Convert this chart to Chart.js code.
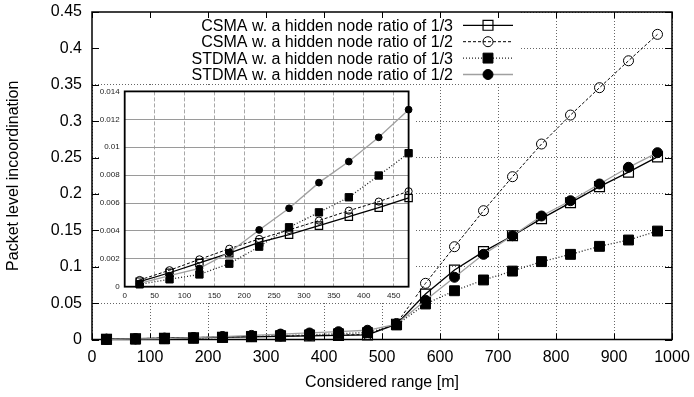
<!DOCTYPE html>
<html><head><meta charset="utf-8">
<script src="https://cdn.jsdelivr.net/npm/chart.js@4/dist/chart.umd.min.js"></script>
<style>
html,body{margin:0;padding:0;background:#fff;}
#wrap{position:relative;width:694px;height:397px;overflow:hidden;}
#main{position:absolute;left:0;top:0;}
#inset{position:absolute;left:99px;top:85px;background:#fff;}
</style></head><body>
<div id="wrap">
<canvas id="main" width="694" height="397"></canvas>
<canvas id="inset" width="316" height="217"></canvas>
</div>
<script>
// ---------- data ----------
const ranges = [25,75,125,175,225,275,325,375,425,475,525,575,625,675,725,775,825,875,925,975];
const seriesLabels = [
  'CSMA w. a hidden node ratio of 1/3',
  'CSMA w. a hidden node ratio of 1/2',
  'STDMA w. a hidden node ratio of 1/3',
  'STDMA w. a hidden node ratio of 1/2'
];
const csma13  = [0.00036,0.00100,0.00170,0.00240,0.00318,0.00373,0.00438,0.00502,0.00567,0.00636,
                 0.021,0.0625,0.0955,0.1207,0.1426,0.166,0.188,0.210,0.230,0.251];
const csma12  = [0.00048,0.00118,0.00196,0.00272,0.00342,0.00407,0.00474,0.00545,0.00610,0.00684,
                 0.022,0.0772,0.1275,0.177,0.2237,0.2686,0.3084,0.346,0.383,0.4193];
const stdma13 = [0.00017,0.00053,0.00088,0.00165,0.00287,0.00426,0.00533,0.00641,0.00797,0.00957,
                 0.020,0.0488,0.067,0.0818,0.094,0.107,0.117,0.128,0.1367,0.149];
const stdma12 = [0.00024,0.00079,0.00131,0.00245,0.00407,0.00562,0.00746,0.00897,0.01071,0.01269,
                 0.021,0.054,0.0855,0.117,0.1426,0.1697,0.1907,0.2137,0.2366,0.2567];
const insetCount = 10; // inset shows ranges up to 475 m

const xTicksMain = [0,100,200,300,400,500,600,700,800,900,1000];
const yTicksMain = [0,0.05,0.1,0.15,0.2,0.25,0.3,0.35,0.4,0.45];
const yTickLabelsMain = ['0','0.05','0.1','0.15','0.2','0.25','0.3','0.35','0.4','0.45'];
const xTicksInset = [0,50,100,150,200,250,300,350,400,450];
const yTicksInset = [0,0.002,0.004,0.006,0.008,0.01,0.012,0.014];
const yTickLabelsInset = ['0','0.002','0.004','0.006','0.008','0.01','0.012','0.014'];

// ---------- styles ----------
const FONT = '"Liberation Sans", Arial, sans-serif';
const allSeries = [csma13, csma12, stdma13, stdma12];
const styles = [
  {borderColor:'#000', borderWidth:1.3, borderDash:[], pointStyle:'rect', fill:'rgba(0,0,0,0)', pbw:1.2},
  {borderColor:'#000', borderWidth:1, borderDash:[3,2], pointStyle:'circle', fill:'rgba(0,0,0,0)', pbw:1},
  {borderColor:'#222', borderWidth:1.3, borderDash:[1,2], pointStyle:'rect', fill:'#000', pbw:1},
  {borderColor:'#a0a0a0', borderWidth:1.3, borderDash:[], pointStyle:'circle', fill:'#000', pbw:1}
];
const mainRadius = [7, 5, 7, 5];
const insetRadius = [5.2, 3.6, 5.2, 3.4];

function makeDatasets(count, radii){
  return allSeries.map((arr, i) => ({
    label: seriesLabels[i],
    data: arr.slice(0, count).map((v, k) => ({x: ranges[k], y: v})),
    borderColor: styles[i].borderColor,
    borderWidth: styles[i].borderWidth,
    borderDash: styles[i].borderDash,
    pointStyle: styles[i].pointStyle,
    pointRadius: radii[i],
    pointBorderColor: '#000',
    pointBackgroundColor: styles[i].fill,
    pointBorderWidth: styles[i].pbw,
    fill: false,
    tension: 0,
    clip: false,
    order: 4 - i
  }));
}

function drawMarker(ctx, style, r, x, y, fill, bw){
  ctx.save();
  ctx.setLineDash([]);
  ctx.lineWidth = bw; ctx.strokeStyle = '#000'; ctx.fillStyle = fill;
  ctx.beginPath();
  if (style === 'rect') { const s = Math.SQRT1_2 * r; ctx.rect(x - s, y - s, 2*s, 2*s); }
  else { ctx.arc(x, y, r, 0, Math.PI*2); }
  ctx.fill(); ctx.stroke();
  ctx.restore();
}

function noPad(s){ s.paddingTop = 0; s.paddingBottom = 0; s.paddingLeft = 0; s.paddingRight = 0; }

// ---------- main chart decorations ----------
const mainDecor = {
  id: 'mainDecor',
  beforeDatasetsDraw(chart){
    const {ctx, chartArea: a, scales: {x, y}} = chart;
    ctx.save();
    // opaque key area
    ctx.fillStyle = '#fff';
    ctx.fillRect(a.left, a.top, 521 - a.left, 84 - a.top);
    // frame
    ctx.strokeStyle = '#000'; ctx.lineWidth = 1.5; ctx.setLineDash([]);
    ctx.strokeRect(a.left, a.top, a.right - a.left, a.bottom - a.top);
    // inward ticks
    ctx.lineWidth = 1;
    ctx.beginPath();
    xTicksMain.forEach(v => {
      const p = Math.round(x.getPixelForValue(v)) + 0.5;
      ctx.moveTo(p, a.bottom); ctx.lineTo(p, a.bottom - 6);
      ctx.moveTo(p, a.top); ctx.lineTo(p, a.top + 6);
    });
    yTicksMain.forEach(v => {
      const p = Math.round(y.getPixelForValue(v)) + 0.5;
      ctx.moveTo(a.left, p); ctx.lineTo(a.left + 7, p);
      ctx.moveTo(a.right, p); ctx.lineTo(a.right - 7, p);
    });
    ctx.stroke();
    ctx.restore();
  },
  afterDatasetsDraw(chart){
    const {ctx} = chart;
    ctx.save();
    ctx.font = '16px ' + FONT;
    ctx.textAlign = 'right'; ctx.textBaseline = 'middle'; ctx.fillStyle = '#000';
    chart.data.datasets.forEach((ds, i) => {
      const yy = 25.3 + i * 16.4;
      ctx.fillText(ds.label, 453, yy + 1);
      ctx.beginPath();
      ctx.setLineDash(ds.borderDash || []);
      ctx.strokeStyle = ds.borderColor; ctx.lineWidth = ds.borderWidth;
      ctx.moveTo(463, yy); ctx.lineTo(513, yy); ctx.stroke();
      drawMarker(ctx, ds.pointStyle, ds.pointStyle === 'rect' ? 7 : 5, 488, yy, ds.pointBackgroundColor, ds.pointBorderWidth);
    });
    ctx.restore();
  }
};

const insetDecor = {
  id: 'insetDecor',
  beforeDatasetsDraw(chart){
    const {ctx, chartArea: a} = chart;
    ctx.save();
    ctx.strokeStyle = '#000'; ctx.lineWidth = 1.8; ctx.setLineDash([]);
    ctx.strokeRect(a.left, a.top, a.right - a.left, a.bottom - a.top);
    ctx.restore();
  }
};

Chart.defaults.font.family = FONT;
Chart.defaults.color = '#000';

new Chart(document.getElementById('main'), {
  type: 'line',
  data: { datasets: makeDatasets(ranges.length, mainRadius) },
  options: {
    responsive: false, animation: false, devicePixelRatio: 1,
    layout: { padding: { top: 12, right: 22, left: 0, bottom: 0 } },
    plugins: { legend: { display: false }, tooltip: { enabled: false } },
    scales: {
      x: {
        type: 'linear', min: 0, max: 1000,
        afterBuildTicks: s => { s.ticks = xTicksMain.map(v => ({value: v})); },
        afterFit: s => { s.height = 57.5; noPad(s); },
        grid: { drawTicks: false, color: 'rgba(0,0,0,0.6)', lineWidth: 1 },
        border: { display: false, dash: [1, 2] },
        ticks: { padding: 8, color: '#000', font: { size: 16 }, maxRotation: 0, autoSkip: false,
                 callback: (v, i) => String(xTicksMain[i]) },
        title: { display: true, text: 'Considered range [m]', color: '#000', font: { size: 16 },
                 padding: { top: 0, bottom: 5 } }
      },
      y: {
        type: 'linear', min: 0, max: 0.45,
        afterBuildTicks: s => { s.ticks = yTicksMain.map(v => ({value: v})); },
        afterFit: s => { s.width = 92; noPad(s); },
        grid: { drawTicks: false, color: 'rgba(0,0,0,0.6)', lineWidth: 1 },
        border: { display: false, dash: [1, 2] },
        ticks: { padding: 10, color: '#000', font: { size: 16 }, autoSkip: false,
                 callback: (v, i) => yTickLabelsMain[i] },
        title: { display: true, text: 'Packet level incoordination', color: '#000', font: { size: 16 },
                 padding: { top: 4, bottom: 0 } }
      }
    }
  },
  plugins: [mainDecor]
});

new Chart(document.getElementById('inset'), {
  type: 'line',
  data: { datasets: makeDatasets(insetCount, insetRadius) },
  options: {
    responsive: false, animation: false, devicePixelRatio: 1,
    layout: { padding: { top: 6, right: 3.7, left: 0, bottom: 0 } },
    plugins: { legend: { display: false }, tooltip: { enabled: false } },
    scales: {
      x: {
        type: 'linear', min: 0, max: 475,
        afterBuildTicks: s => { s.ticks = xTicksInset.map(v => ({value: v})); },
        afterFit: s => { s.height = 15.3; noPad(s); },
        grid: { drawTicks: false, color: '#a8a8a8', lineWidth: 1 },
        border: { display: false, dash: [4, 2] },
        ticks: { padding: 4, color: '#222', font: { size: 8 }, maxRotation: 0, autoSkip: false,
                 callback: (v, i) => String(xTicksInset[i]) }
      },
      y: {
        type: 'linear', min: 0, max: 0.014,
        afterBuildTicks: s => { s.ticks = yTicksInset.map(v => ({value: v})); },
        afterFit: s => { s.width = 25.7; noPad(s); },
        grid: { drawTicks: false, color: '#9a9a9a', lineWidth: 1 },
        border: { display: false },
        ticks: { padding: 5, color: '#222', font: { size: 8 }, autoSkip: false,
                 callback: (v, i) => yTickLabelsInset[i] }
      }
    }
  },
  plugins: [insetDecor]
});
</script>
</body></html>
